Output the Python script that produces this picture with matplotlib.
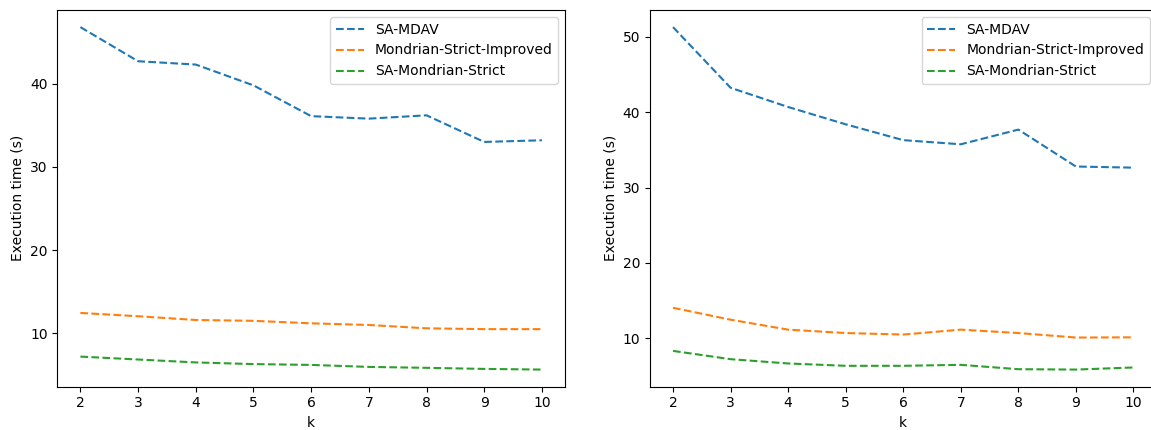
import matplotlib
matplotlib.use("Agg")
import matplotlib.pyplot as plt

k_values = [2, 3, 4, 5, 6, 7, 8, 9, 10]
series_names = ["SA-MDAV", "Mondrian-Strict-Improved", "SA-Mondrian-Strict"]

# 左图
left_sa_mdav = [46.8, 42.7, 42.3, 39.8, 36.1, 35.8, 36.2, 33.0, 33.2]
left_mondrian_improved = [12.45, 12.05, 11.6, 11.5, 11.2, 11.0, 10.6, 10.5, 10.5]
left_sa_mondrian = [7.2, 6.85, 6.5, 6.3, 6.2, 5.96, 5.85, 5.72, 5.64]

# 右图
right_sa_mdav = [51.3, 43.25, 40.7, 38.4, 36.3, 35.75, 37.7, 32.8, 32.65]
right_mondrian_improved = [14.05, 12.47, 11.15, 10.7, 10.5, 11.15, 10.7, 10.1, 10.13]
right_sa_mondrian = [8.33, 7.23, 6.66, 6.35, 6.35, 6.48, 5.9, 5.85, 6.13]

W, H = 1151, 430
fig = plt.figure(figsize=(W / 100, H / 100), dpi=100)
# 右侧子图在原图中被裁掉了一点
ax1 = fig.add_axes([57.3 / W, 43.3 / H, 507.7 / W, 376.7 / H])
ax2 = fig.add_axes([650 / W, 43.3 / H, 506.5 / W, 376.7 / H])

for ax, data in [(ax1, [left_sa_mdav, left_mondrian_improved, left_sa_mondrian]),
                 (ax2, [right_sa_mdav, right_mondrian_improved, right_sa_mondrian])]:
    for name, vals in zip(series_names, data):
        ax.plot(k_values, vals, linestyle="--", label=name)
    ax.set_xlabel("k")
    ax.set_ylabel("Execution time (s)")
    ax.set_xticks(k_values)
    ax.legend(loc="upper right")

fig.savefig("out.png", dpi=100)
